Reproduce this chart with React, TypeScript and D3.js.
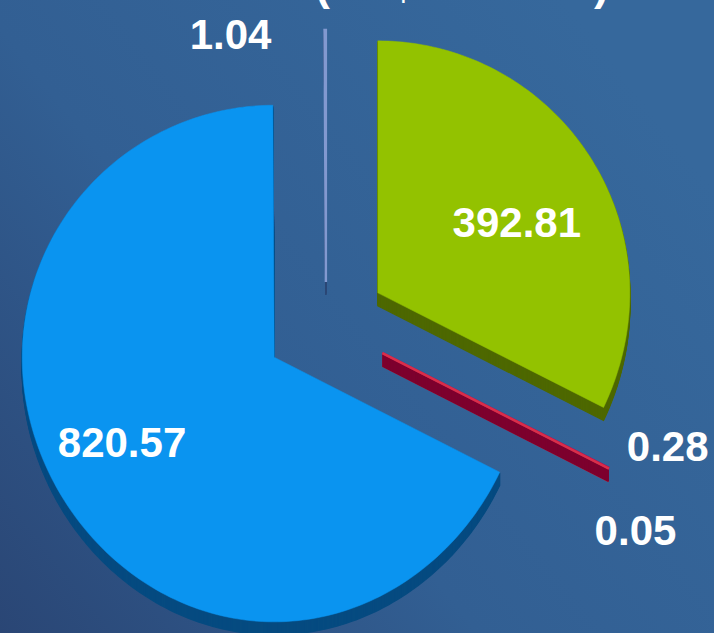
import React from "react";
import * as d3 from "d3";

// slice data, clockwise from 12 o'clock
const categories: string[] = ["Segment A", "Segment B", "Segment C", "Segment D", "Segment E"];
const values: number[] = [392.81, 0.28, 0.05, 820.57, 1.04];
const labels: string[] = ["392.81", "0.28", "0.05", "820.57", "1.04"];
const title: string = "(US$ millions)";

const topColors: string[] = ["#93c200", "#c8004a", "#d8304a", "#0a94f0", "#8299d0"];
const sideColors: string[] = ["#4e6800", "#7d002e", "#b03a48", "#064b80", "#2b4775"];

const App: React.FC = () => {
    const width = 714;
    const height = 633;
    const cx = 326;
    const cy = 325;
    const radius = 252;
    const depth = 13;
    const persp = 0.05; // front half drawn a little larger

    // how far each slice is pulled out of the pie
    const explode = [61, 63, 63, 61, 43];
    // label placement (angle in degrees, distance from slice centre)
    const labelPlace: [number, number][] = [
        [63, 156],
        [108, 300],
        [125, 309],
        [241, 174],
        [339, 266],
    ];

    const pie = d3.pie<number>().sort(null).startAngle(0).endAngle(2 * Math.PI);
    const arcs = pie(values);
    const line = d3.line();

    const project = (t: number, r: number): [number, number] => {
        const x = r * Math.sin(t);
        const y = -r * Math.cos(t);
        return [x, y > 0 ? y * (1 + (persp * y) / radius) : y];
    };

    const slicePath = (a: d3.PieArcDatum<number>) => {
        const n = Math.max(1, Math.ceil((a.endAngle - a.startAngle) / 0.02));
        const pts: [number, number][] = [[0, 0]];
        for (let j = 0; j <= n; j++) {
            pts.push(project(a.startAngle + ((a.endAngle - a.startAngle) * j) / n, radius));
        }
        return (line(pts) as string) + "Z";
    };

    const slices = arcs.map((a, i) => {
        const mid = (a.startAngle + a.endAngle) / 2;
        return {
            a,
            i,
            x: cx + explode[i] * Math.sin(mid),
            y: cy - explode[i] * Math.cos(mid),
            path: slicePath(a),
            thin: a.endAngle - a.startAngle < 0.01,
        };
    });

    const sideOrder = [0, 2, 1, 3, 4];
    const steps = d3.range(depth, 0, -1);

    return (
        <svg width={width} height={height} style={{ position: "absolute", left: 0, top: 0 }}>
            <defs>
                <linearGradient id="bg" x1="0" y1="1" x2="1" y2="0.3">
                    <stop offset="0%" stopColor="#2a4675" />
                    <stop offset="45%" stopColor="#325f93" />
                    <stop offset="100%" stopColor="#36689c" />
                </linearGradient>
            </defs>
            <rect x={0} y={0} width={width} height={height} fill="url(#bg)" />

            {/* Title (mostly off the top edge) */}
            <text
                x={462}
                y={0}
                textAnchor="middle"
                fill="#ffffff"
                fontFamily="Liberation Sans, Arial, sans-serif"
                fontWeight="bold"
                fontSize={44}
            >
                {title}
            </text>

            {/* Side faces */}
            {sideOrder.map(idx => {
                const s = slices[idx];
                return (
                    <g key={`side-${categories[s.i]}`}>
                        {steps.map(k => (
                            <path
                                key={k}
                                d={s.path}
                                transform={`translate(${s.x},${s.y + k})`}
                                fill={sideColors[s.i]}
                                stroke={sideColors[s.i]}
                                strokeWidth={s.thin ? 1.6 : 1.2}
                            />
                        ))}
                    </g>
                );
            })}

            {/* Top faces */}
            {slices.map(s => (
                <path
                    key={`top-${categories[s.i]}`}
                    d={s.path}
                    transform={`translate(${s.x},${s.y})`}
                    fill={topColors[s.i]}
                    stroke={topColors[s.i]}
                    strokeWidth={s.thin ? 2.4 : 0.5}
                />
            ))}

            {/* Labels */}
            {slices.map(s => {
                const [deg, r] = labelPlace[s.i];
                const ang = (deg * Math.PI) / 180;
                return (
                    <text
                        key={`label-${categories[s.i]}`}
                        x={s.x + r * Math.sin(ang)}
                        y={s.y - r * Math.cos(ang)}
                        dy="0.36em"
                        textAnchor="middle"
                        fill="#ffffff"
                        fontFamily="Liberation Sans, Arial, sans-serif"
                        fontWeight="bold"
                        fontSize={42}
                    >
                        {labels[s.i]}
                    </text>
                );
            })}
        </svg>
    );
};

export default App;
